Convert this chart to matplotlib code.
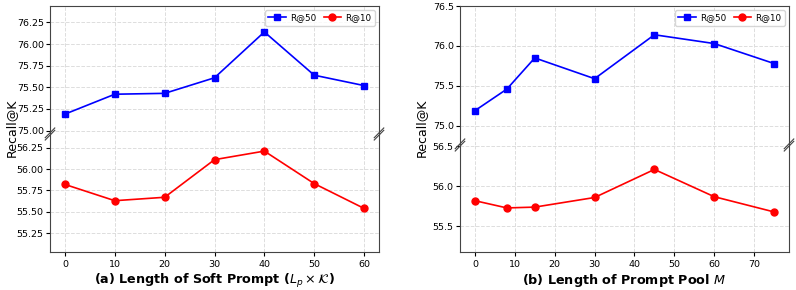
import matplotlib
matplotlib.use('Agg')
import matplotlib.pyplot as plt
import numpy as np

# (a) soft prompt length
xa = [0, 10, 20, 30, 40, 50, 60]
r50_a = [75.19, 75.42, 75.43, 75.61, 76.14, 75.64, 75.52]
r10_a = [55.82, 55.63, 55.67, 56.11, 56.21, 55.83, 55.54]

# (b) prompt pool length
xb = [0, 8, 15, 30, 45, 60, 75]
r50_b = [75.19, 75.46, 75.85, 75.59, 76.14, 76.03, 75.78]
r10_b = [55.82, 55.73, 55.74, 55.86, 56.21, 55.87, 55.68]

W, H = 796, 290
fig = plt.figure(figsize=(W/100, H/100), dpi=100)

def px_axes(l, r, t, b):
    return fig.add_axes([l/W, (H-b)/H, (r-l)/W, (b-t)/H])

def panel(l, r, split, x, r50, r10, ylim_top, ylim_bot, yt_top, yt_bot, fmt, xlabel, xt):
    top = px_axes(l, r, 6, split)
    bot = px_axes(l, r, split, 252)
    for ax in (top, bot):
        ax.grid(True, ls='--', color='#dddddd', lw=0.7)
        ax.tick_params(labelsize=6.8, length=3, pad=1.5)
        ax.set_xlim(x[0] - 0.05*(x[-1]-x[0]), x[-1] + 0.05*(x[-1]-x[0]))
        ax.set_xticks(xt)
        for s in ax.spines.values():
            s.set_color('#444444')
    top.plot(x, r50, 's-', color='blue', ms=5, lw=1.2, label='R@50')
    top.plot([], [], 'o-', color='red', ms=5, lw=1.2, label='R@10')
    bot.plot(x, r10, 'o-', color='red', ms=5, lw=1.2)
    top.set_ylim(*ylim_top)
    bot.set_ylim(*ylim_bot)
    top.set_yticks(yt_top)
    bot.set_yticks(yt_bot)
    top.yaxis.set_major_formatter(plt.FormatStrFormatter(fmt))
    bot.yaxis.set_major_formatter(plt.FormatStrFormatter(fmt))
    top.spines['bottom'].set_visible(False)
    bot.spines['top'].set_visible(False)
    top.tick_params(axis='x', bottom=False, labelbottom=False)
    bot.tick_params(axis='x', pad=3)
    top.legend(loc='upper right', ncol=2, fontsize=6.3, handlelength=2,
               columnspacing=0.8, borderpad=0.35, handletextpad=0.5)
    bot.set_xlabel(xlabel, fontsize=9.2, fontweight='bold', labelpad=2)
    # break marks
    d = 0.012
    kw = dict(transform=fig.transFigure, color='#444444', lw=0.8, clip_on=False)
    ys = (H - split) / H
    for xx in (l/W, r/W):
        for off in (-0.004, 0.004):
            fig.add_artist(plt.Line2D([xx - d*0.5, xx + d*0.5],
                                      [ys + off - d*1.4, ys + off + d*1.4], **kw))
    return top, bot

panel(50, 379, 134, xa, r50_a, r10_a, (74.96, 76.44), (55.03, 56.41),
      [75.0, 75.25, 75.5, 75.75, 76.0, 76.25], [55.25, 55.5, 55.75, 56.0, 56.25],
      '%.2f', r'(a) Length of Soft Prompt ($L_p\times\mathcal{K}$)', xa)
panel(460, 789, 145, xb, r50_b, r10_b, (74.76, 76.5), (55.18, 56.515),
      [75.0, 75.5, 76.0, 76.5], [55.5, 56.0, 56.5],
      '%.1f', r'(b) Length of Prompt Pool $M$', [0, 10, 20, 30, 40, 50, 60, 70])

fig.text(11/W, (H-128)/H, 'Recall@K', rotation=90, fontsize=9, ha='center', va='center')
fig.text(421/W, (H-128)/H, 'Recall@K', rotation=90, fontsize=9, ha='center', va='center')

fig.savefig('out.png', dpi=100)
